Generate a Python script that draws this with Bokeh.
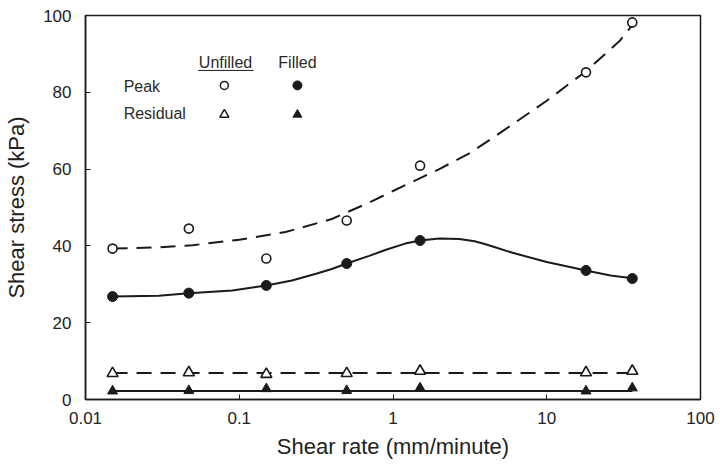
from bokeh.plotting import figure
from bokeh.models import Range1d, FixedTicker, Label
from bokeh.embed import file_html
from bokeh.resources import INLINE

# ---- data ----
shear_rate = [0.015, 0.047, 0.15, 0.5, 1.5, 18, 36]
peak_unfilled = [39.3, 44.5, 36.7, 46.6, 60.9, 85.2, 98.2]
peak_filled = [26.8, 27.7, 29.7, 35.4, 41.4, 33.6, 31.5]
residual_unfilled = [6.8, 7.0, 6.6, 6.8, 7.4, 7.0, 7.4]
residual_filled = [2.2, 2.3, 2.8, 2.3, 3.0, 2.2, 3.0]

# fitted trend curves
fit_unf_x = [0.015, 0.03, 0.05, 0.1, 0.2, 0.4, 0.7, 1.0, 2.0, 3.2, 5.0, 10, 18, 30, 36]
fit_unf_y = [39.3, 39.6, 40.2, 41.6, 43.6, 47.0, 51.3, 54.3, 60.0, 64.3, 69.5, 77.8, 85.5, 93.5, 97.5]
fit_fil_x = [0.015, 0.03, 0.047, 0.09, 0.15, 0.22, 0.32, 0.4, 0.5, 0.7, 0.9, 1.2, 1.5,
             2.0, 2.7, 3.4, 4.1, 6.0, 10, 18, 26, 36]
fit_fil_y = [26.8, 27.0, 27.7, 28.4, 29.7, 31.0, 32.8, 34.0, 35.4, 37.4, 39.0, 40.6, 41.4,
             41.9, 41.8, 41.2, 40.3, 38.2, 35.8, 33.6, 32.3, 31.6]
res_line_x = [0.015, 36]
res_unf_line_y = [6.9, 6.9]
res_fil_line_y = [2.2, 2.2]

x_ticks = [0.01, 0.1, 1, 10, 100]
x_tick_labels = ["0.01", "0.1", "1", "10", "100"]
y_ticks = [0, 20, 40, 60, 80, 100]

INK = "#1a1a1a"
FONT = "Liberation Sans"

p = figure(width=720, height=465, x_axis_type="log",
           x_range=Range1d(0.01, 100), y_range=Range1d(0, 100),
           output_backend="svg", toolbar_location=None,
           min_border_left=85, min_border_right=20,
           min_border_top=15, min_border_bottom=66)
p.grid.visible = False
p.outline_line_color = INK
p.outline_line_width = 1.5
p.background_fill_color = "white"
p.border_fill_color = "white"

p.xaxis.ticker = FixedTicker(ticks=x_ticks)
p.xaxis.major_label_overrides = dict(zip(x_ticks, x_tick_labels))
p.yaxis.ticker = FixedTicker(ticks=y_ticks)
for ax in (p.xaxis, p.yaxis):
    ax.axis_line_color = INK
    ax.axis_line_width = 1.5
    ax.major_tick_in = 5
    ax.major_tick_out = 0
    ax.minor_tick_in = 0
    ax.minor_tick_out = 0
    ax.major_tick_line_color = INK
    ax.major_label_text_font = FONT
    ax.major_label_text_font_size = "17px"
    ax.major_label_text_color = "#222222"
    ax.axis_label_text_font = FONT
    ax.axis_label_text_font_size = "22px"
    ax.axis_label_text_font_style = "normal"
    ax.axis_label_text_color = "#222222"
p.xaxis.axis_label = "Shear rate (mm/minute)"
p.yaxis.axis_label = "Shear stress (kPa)"
p.xaxis.major_label_standoff = 12
p.xaxis.axis_label_standoff = 7
p.yaxis.major_label_standoff = 14
p.yaxis.axis_label_standoff = 11

# trend lines
p.line(fit_unf_x, fit_unf_y, line_color=INK, line_width=2, line_dash="15 9")
p.line(fit_fil_x, fit_fil_y, line_color=INK, line_width=2)
p.line(res_line_x, res_unf_line_y, line_color=INK, line_width=2, line_dash="15 9")
p.line(res_line_x, res_fil_line_y, line_color=INK, line_width=2)

# points
p.scatter(shear_rate, peak_unfilled, marker="circle", size=9,
          fill_color="white", line_color=INK, line_width=1.6)
p.scatter(shear_rate, peak_filled, marker="circle", size=10,
          fill_color=INK, line_color=INK)
p.scatter(shear_rate, residual_unfilled, marker="triangle", size=11,
          fill_color="white", line_color=INK, line_width=1.6)
p.scatter(shear_rate, residual_filled, marker="triangle", size=10,
          fill_color=INK, line_color=INK)

# legend block
def lab(x, y, t, align):
    p.add_layout(Label(x=x, y=y, text=t, text_font=FONT, text_font_size="16px",
                       text_color="#2a2a2a", text_align=align,
                       text_baseline="middle"))

lab(0.0814, 87.8, "Unfilled", "center")
lab(0.239, 87.8, "Filled", "center")
lab(0.0177, 81.5, "Peak", "left")
lab(0.0177, 74.5, "Residual", "left")
p.line([0.054, 0.124], [85.7, 85.7], line_color=INK, line_width=1)
p.scatter([0.080], [81.8], marker="circle", size=8, fill_color="white",
          line_color=INK, line_width=1.5)
p.scatter([0.239], [81.8], marker="circle", size=9, fill_color=INK, line_color=INK)
p.scatter([0.080], [74.2], marker="triangle", size=9, fill_color="white",
          line_color=INK, line_width=1.5)
p.scatter([0.239], [74.2], marker="triangle", size=9, fill_color=INK, line_color=INK)

open("out.html", "w").write(file_html(p, INLINE))
